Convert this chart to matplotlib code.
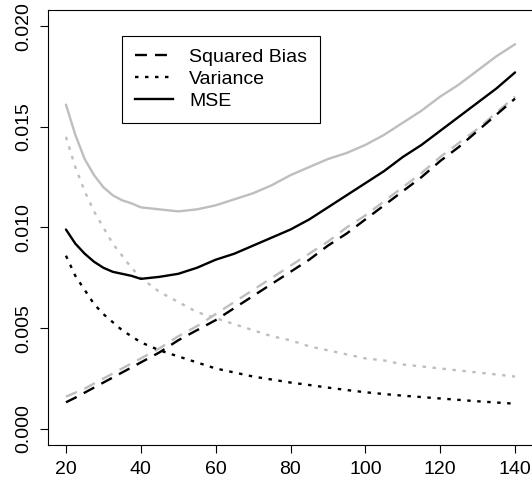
import matplotlib
matplotlib.use("Agg")
import matplotlib.pyplot as plt
from matplotlib.lines import Line2D

plt.rcParams['font.family'] = ['Liberation Sans', 'DejaVu Sans']
plt.rcParams['lines.scale_dashes'] = False

x = [20, 22.5, 25, 27.5, 30, 32.5, 35, 37.5, 40, 45, 50, 55, 60, 65, 70, 75, 80,
     85, 90, 95, 100, 105, 110, 115, 120, 125, 130, 135, 140]

bias_black = [0.00132, 0.00155, 0.0018, 0.00205, 0.0023, 0.00255, 0.0028, 0.00305,
              0.0033, 0.0038, 0.0044, 0.0049, 0.0054, 0.0060, 0.0066, 0.0072, 0.0078,
              0.0084, 0.0091, 0.0097, 0.0104, 0.0111, 0.0118, 0.0125, 0.0133, 0.0140,
              0.0148, 0.0156, 0.0164]
var_black = [0.0086, 0.0076, 0.0069, 0.0062, 0.0057, 0.0053, 0.0049, 0.0046,
             0.0043, 0.0039, 0.0036, 0.0033, 0.0030, 0.0028, 0.0026, 0.00245, 0.0023,
             0.00218, 0.00205, 0.00193, 0.00182, 0.00173, 0.00165, 0.00158, 0.00151,
             0.00144, 0.00137, 0.00131, 0.00125]
mse_black = [0.0099, 0.0092, 0.0087, 0.0083, 0.0080, 0.0078, 0.0077, 0.0076,
             0.00745, 0.00755, 0.0077, 0.0080, 0.0084, 0.0087, 0.0091, 0.0095, 0.0099,
             0.0104, 0.0110, 0.0116, 0.0122, 0.0128, 0.0135, 0.0141, 0.0148, 0.0155,
             0.0162, 0.0169, 0.0177]

bias_grey = [0.0016, 0.0018, 0.0020, 0.00225, 0.0025, 0.00275, 0.0030, 0.00325,
             0.0035, 0.0040, 0.0046, 0.0051, 0.0057, 0.0063, 0.0069, 0.0075, 0.0081,
             0.0087, 0.0093, 0.0100, 0.0106, 0.0113, 0.0120, 0.0127, 0.0135, 0.0142,
             0.0149, 0.0157, 0.0165]
var_grey = [0.0145, 0.0130, 0.0118, 0.0108, 0.0100, 0.0092, 0.0086, 0.0080,
            0.0075, 0.0068, 0.0063, 0.0058, 0.0055, 0.0052, 0.0049, 0.0046, 0.0044,
            0.0041, 0.0039, 0.0037, 0.0035, 0.0034, 0.0032, 0.0031, 0.0030, 0.0029,
            0.0028, 0.0027, 0.0026]
mse_grey = [0.0161, 0.0146, 0.0134, 0.0126, 0.0120, 0.0116, 0.01135, 0.0112,
            0.0110, 0.0109, 0.0108, 0.0109, 0.0111, 0.0114, 0.0117, 0.0121, 0.0126,
            0.0130, 0.0134, 0.0137, 0.0141, 0.0146, 0.0152, 0.0158, 0.0165, 0.0171,
            0.0178, 0.0185, 0.0191]

xticks = [20, 40, 60, 80, 100, 120, 140]
yticks = [0.000, 0.005, 0.010, 0.015, 0.020]
ytick_labels = ["0.000", "0.005", "0.010", "0.015", "0.020"]
legend_labels = ["Squared Bias", "Variance", "MSE"]

W, H = 532, 484
fig = plt.figure(figsize=(W / 100, H / 100), dpi=100)
ax = fig.add_axes([48 / W, 1 - 445 / H, 485 / W, 435 / H])

lw = 1.7
dash = (0, (8.6, 5.8))
dot = (0, (2.5, 4.7))
grey = "#BEBEBE"

for series, ls, c in [(bias_grey, dash, grey), (var_grey, dot, grey), (mse_grey, '-', grey),
                      (bias_black, dash, 'black'), (var_black, dot, 'black'), (mse_black, '-', 'black')]:
    ax.plot(x, series, color=c, linestyle=ls, linewidth=lw, dash_capstyle='butt',
            solid_capstyle='round', solid_joinstyle='round')

ax.set_xlim(15.2, 144.8)
ax.set_ylim(-0.0008, 0.0208)
ax.set_xticks(xticks)
ax.set_xticklabels([str(v) for v in xticks])
ax.set_yticks(yticks)
ax.set_yticklabels(ytick_labels, rotation=90, va='center')
ax.tick_params(axis='both', direction='out', length=5.8, width=0.8, labelsize=14, pad=5.5)
for s in ax.spines.values():
    s.set_linewidth(0.8)

handles = [Line2D([], [], color='black', linestyle=dash, linewidth=lw, dash_capstyle='butt'),
           Line2D([], [], color='black', linestyle=dot, linewidth=lw, dash_capstyle='butt'),
           Line2D([], [], color='black', linestyle='-', linewidth=lw)]
leg = ax.legend(handles, legend_labels, loc='upper left',
                bbox_to_anchor=((122 - 48) / 485, 1 - (36 - 10) / 435),
                bbox_transform=ax.transAxes, borderaxespad=0, fontsize=14,
                frameon=True, fancybox=False, edgecolor='black', framealpha=1,
                handlelength=1.95, handletextpad=0.85, labelspacing=0.22,
                borderpad=0.65)
leg.get_frame().set_linewidth(0.8)

fig.savefig("out.png", dpi=100)
